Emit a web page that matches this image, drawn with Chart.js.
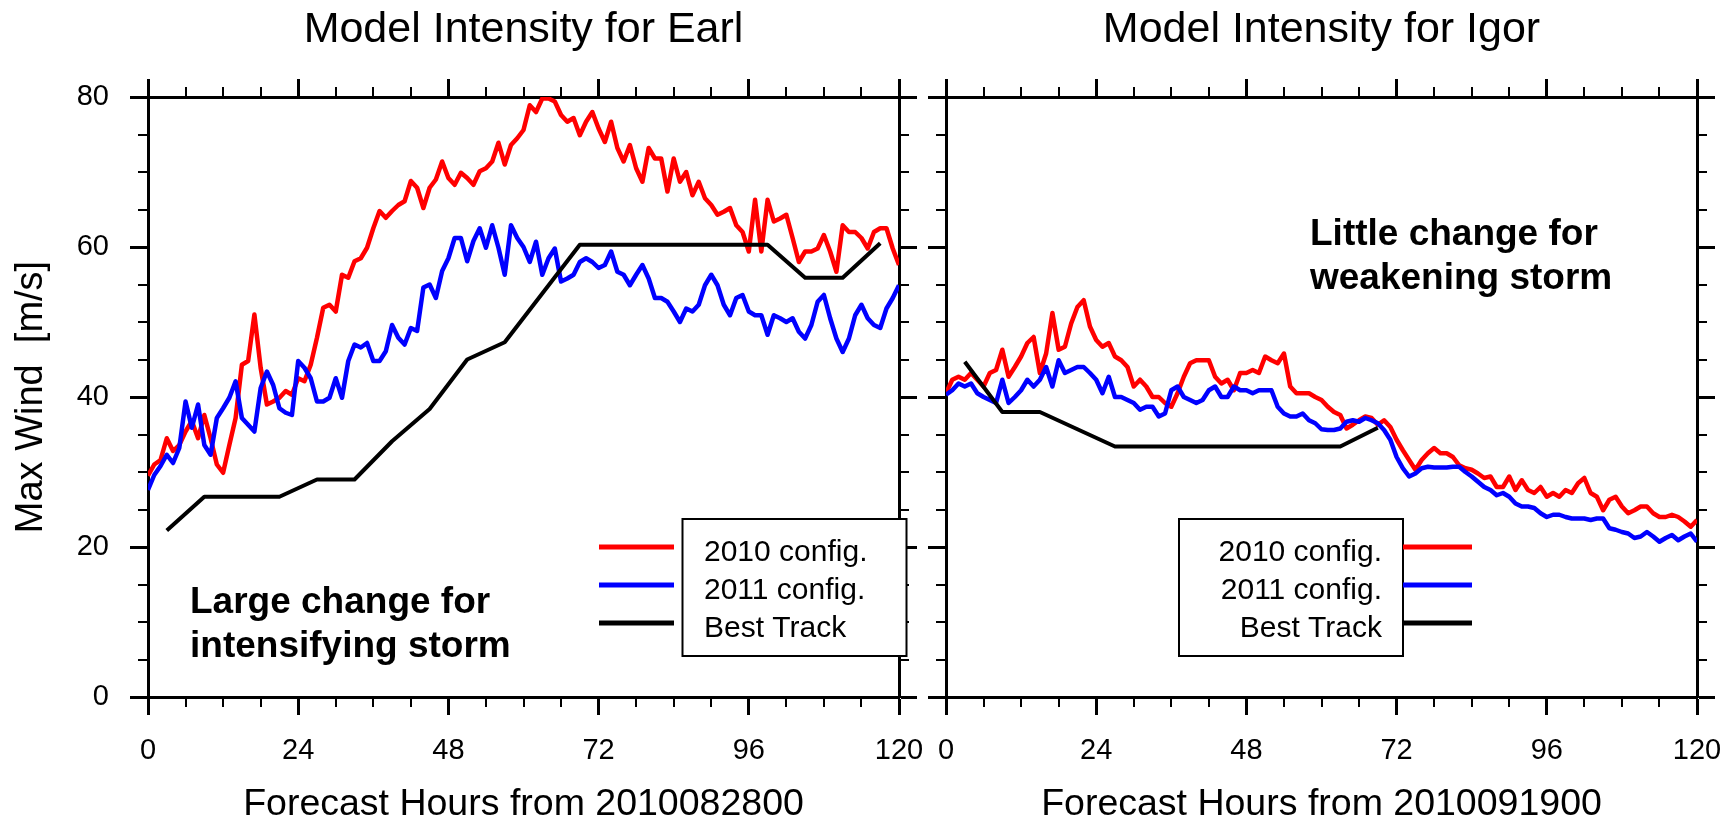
<!DOCTYPE html>
<html>
<head>
<meta charset="utf-8">
<title>Model Intensity for Earl and Igor</title>
<script src="https://cdn.jsdelivr.net/npm/chart.js@4.4.1/dist/chart.umd.min.js"></script>
<style>
  html, body { margin: 0; padding: 0; background: #fff; }
  #wrap { position: relative; width: 1726px; height: 822px; overflow: hidden; background: #fff; }
  canvas { position: absolute; top: 0; }
  #earl { left: 0; }
  #igor { left: 922px; }
</style>
</head>
<body>
<div id="wrap">
  <canvas id="earl" width="922" height="822"></canvas>
  <canvas id="igor" width="804" height="822"></canvas>
</div>
<script>
// Forecast max wind (m/s), hourly from hour 0 to 120
var seriesNames = ['2010 config.', '2011 config.', 'Best Track'];
var seriesColors = ['#ff0000', '#0000ff', '#000000'];
var hourTicks = [0, 24, 48, 72, 96, 120];
var windTicks = [0, 20, 40, 60, 80];

var earl2010 = [
  29.5, 31.0, 31.6, 34.5, 32.8, 33.6, 35.4, 36.8, 34.5, 37.6,
  34.5, 31.0, 29.9, 33.6, 37.2, 44.3, 44.8, 51.0, 43.9, 39.0,
  39.4, 39.9, 40.8, 40.3, 42.5, 42.1, 44.3, 47.9, 51.9, 52.3,
  51.4, 56.3, 55.9, 58.1, 58.5, 59.9, 62.5, 64.8, 63.9, 64.8,
  65.6, 66.1, 68.8, 67.9, 65.2, 67.9, 69.0, 71.4, 69.2, 68.3,
  69.9, 69.2, 68.3, 70.1, 70.5, 71.4, 73.9, 71.0, 73.6, 74.5,
  75.6, 78.9, 78.0, 79.8, 79.8, 79.4, 77.6, 76.7, 77.2, 74.9,
  76.7, 78.0, 75.8, 74.0, 76.7, 73.2, 71.4, 73.6, 70.5, 68.7,
  73.2, 71.8, 71.8, 67.4, 71.8, 68.7, 70.0, 66.9, 68.7, 66.5,
  65.6, 64.3, 64.7, 65.2, 62.9, 62.0, 59.4, 66.3, 59.4, 66.3,
  63.4, 63.8, 64.3, 61.2, 58.0, 59.4, 59.4, 59.8, 61.6, 59.4,
  56.7, 62.9, 62.0, 62.0, 61.2, 59.8, 62.0, 62.5, 62.5, 59.8,
  57.6
];
var earl2011 = [
  27.6, 29.6, 30.8, 32.3, 31.2, 33.2, 39.4, 35.9, 39.0, 33.6,
  32.3, 37.2, 38.5, 39.9, 42.1, 37.2, 36.3, 35.4, 41.2, 43.4,
  41.6, 38.5, 37.9, 37.6, 44.8, 43.9, 42.5, 39.4, 39.4, 39.9,
  42.5, 39.9, 44.8, 47.0, 46.6, 47.2, 44.8, 44.8, 46.1, 49.6,
  47.9, 47.0, 49.2, 48.8, 54.6, 55.0, 53.2, 56.8, 58.5, 61.2,
  61.2, 58.1, 60.8, 62.5, 59.9, 62.9, 59.9, 56.3, 62.9, 61.2,
  60.0, 58.0, 60.7, 56.3, 58.5, 59.8, 55.4, 55.8, 56.3, 58.0,
  58.5, 58.0, 57.2, 57.6, 59.4, 56.7, 56.3, 54.9, 56.3, 57.6,
  55.8, 53.2, 53.2, 52.7, 51.4, 50.0, 51.8, 51.4, 52.3, 54.9,
  56.3, 54.9, 52.3, 50.9, 53.2, 53.6, 51.4, 50.9, 50.9, 48.3,
  50.9, 50.5, 50.0, 50.5, 48.7, 47.8, 49.6, 52.7, 53.6, 50.5,
  47.8, 46.0, 47.8, 50.9, 52.3, 50.5, 49.6, 49.2, 51.8, 53.2,
  54.9
];
var earlBestHours = [3, 9, 15, 21, 27, 33, 39, 45, 51, 57, 63, 69, 75, 81, 87, 93, 99, 105, 111, 117];
var earlBest = [22.2, 26.7, 26.7, 26.7, 29.0, 29.0, 34.1, 38.4, 45.0, 47.3, 53.8, 60.3, 60.3, 60.3, 60.3, 60.3, 60.3, 55.9, 55.9, 60.5];

var igor2010 = [
  40.5, 42.3, 42.7, 42.3, 43.2, 42.3, 41.4, 43.2, 43.6, 46.3,
  42.7, 44.0, 45.4, 47.2, 48.0, 43.2, 45.8, 51.2, 46.3, 46.7,
  49.8, 52.0, 52.9, 49.4, 47.6, 46.7, 47.2, 45.4, 44.9, 44.0,
  41.4, 42.3, 41.4, 40.0, 40.0, 39.2, 38.7, 40.5, 42.7, 44.5,
  44.9, 44.9, 44.9, 42.7, 41.8, 42.3, 40.9, 43.2, 43.2, 43.6,
  43.2, 45.4, 44.9, 44.5, 45.8, 41.4, 40.5, 40.5, 40.5, 40.0,
  39.6, 38.7, 38.0, 37.6, 35.8, 36.3, 36.9, 37.4, 37.2, 36.3,
  36.9, 36.0, 34.3, 32.9, 31.6, 30.3, 31.6, 32.5, 33.2, 32.5,
  32.5, 32.0, 30.9, 30.5, 30.3, 29.8, 29.2, 29.4, 28.0, 28.0,
  29.4, 27.6, 28.9, 27.6, 27.2, 28.0, 26.7, 27.2, 26.7, 27.6,
  27.2, 28.5, 29.2, 27.2, 26.7, 24.9, 26.3, 26.7, 25.4, 24.5,
  24.9, 25.4, 25.4, 24.5, 24.0, 24.0, 24.3, 24.0, 23.4, 22.7,
  23.6
];
var igor2011 = [
  40.3, 40.9, 41.8, 41.4, 41.8, 40.5, 40.0, 39.6, 39.2, 42.3,
  39.2, 40.0, 40.9, 42.3, 41.4, 42.3, 44.0, 41.4, 44.9, 43.2,
  43.6, 44.0, 44.0, 43.2, 42.3, 40.5, 42.7, 40.0, 40.0, 39.6,
  39.2, 38.3, 38.7, 38.7, 37.4, 37.8, 40.9, 41.4, 40.0, 39.6,
  39.2, 39.6, 40.9, 41.4, 40.0, 40.0, 41.4, 40.9, 40.9, 40.5,
  40.9, 40.9, 40.9, 38.7, 37.8, 37.4, 37.4, 37.8, 36.9, 36.5,
  35.7, 35.6, 35.6, 35.8, 36.7, 36.9, 36.7, 37.2, 36.9, 36.5,
  35.6, 34.3, 32.0, 30.5, 29.4, 29.8, 30.5, 30.7, 30.6, 30.6,
  30.6, 30.7, 30.7, 30.0, 29.4, 28.7, 28.0, 27.6, 26.9, 27.2,
  26.7, 25.8, 25.4, 25.4, 25.2, 24.5, 24.0, 24.3, 24.3, 24.0,
  23.8, 23.8, 23.8, 23.6, 23.8, 23.8, 22.5, 22.3, 22.0, 21.8,
  21.2, 21.4, 22.0, 21.4, 20.7, 21.2, 21.6, 20.9, 21.4, 21.8,
  20.7
];
var igorBestHours = [3, 9, 15, 21, 27, 33, 39, 45, 51, 57, 63, 69];
var igorBest = [44.7, 38.0, 38.0, 35.7, 33.4, 33.4, 33.4, 33.4, 33.4, 33.4, 33.4, 35.9];

var FONT = '"Liberation Sans", Arial, Helvetica, sans-serif';

function toPoints(values, hours) {
  return values.map(function (v, i) { return { x: hours ? hours[i] : i, y: v }; });
}

function fixedTicks(list) {
  return function (scale) {
    scale.ticks = list.map(function (v) { return { value: v }; });
  };
}

function makeScales(cfg) {
  var tickFont = { family: FONT, size: 29 };
  var grid = { drawOnChartArea: false, drawTicks: true, tickLength: 18, tickWidth: 3, tickColor: '#000' };
  var border = { display: true, color: '#000', width: 3 };
  return {
    x: {
      type: 'linear', axis: 'x', position: 'bottom', min: 0, max: 120,
      afterBuildTicks: fixedTicks(hourTicks),
      ticks: { font: tickFont, color: '#000', padding: 19, maxRotation: 0, autoSkip: false },
      grid: grid, border: border,
      title: {
        display: true, text: cfg.xTitle, color: '#000',
        font: { family: FONT, size: 37.5, lineHeight: 0.9 }, padding: { top: 0, bottom: 0 }
      },
      afterFit: function (s) { s.height = 125; s.paddingLeft = 0; s.paddingRight = 0; }
    },
    xTop: {
      type: 'linear', axis: 'x', position: 'top', min: 0, max: 120,
      afterBuildTicks: fixedTicks(hourTicks),
      ticks: { display: false },
      grid: grid, border: border,
      title: {
        display: true, text: cfg.title, color: '#000',
        font: { family: FONT, size: 43 }, padding: { top: 4.5, bottom: 0 }
      },
      afterFit: function (s) { s.height = 97; s.paddingLeft = 0; s.paddingRight = 0; }
    },
    y: {
      type: 'linear', axis: 'y', position: 'left', min: 0, max: 80,
      afterBuildTicks: fixedTicks(windTicks),
      ticks: { display: cfg.yLabels, font: tickFont, color: '#000', padding: 21 },
      grid: grid, border: border,
      title: {
        display: cfg.yLabels, text: 'Max Wind  [m/s]', color: '#000',
        font: { family: FONT, size: 38 }, padding: { top: 9, bottom: 0 }
      },
      afterFit: function (s) { s.width = cfg.leftW; s.paddingTop = 0; s.paddingBottom = 0; }
    },
    yRight: {
      type: 'linear', axis: 'y', position: 'right', min: 0, max: 80,
      afterBuildTicks: fixedTicks(windTicks),
      ticks: { display: false },
      grid: grid, border: border,
      afterFit: function (s) { s.width = cfg.rightW; s.paddingTop = 0; s.paddingBottom = 0; }
    }
  };
}

// minor ticks, legend box and the bold note
var decorPlugin = {
  id: 'decor',
  afterDraw: function (chart) {
    var o = chart.options.plugins.decor;
    var ctx = chart.ctx;
    var a = chart.chartArea;
    var xs = chart.scales.x;
    var ys = chart.scales.y;
    ctx.save();
    ctx.strokeStyle = '#000';
    ctx.lineWidth = 2;
    ctx.beginPath();
    for (var h = 6; h < 120; h += 6) {
      if (h % 24 === 0) continue;
      var px = Math.round(xs.getPixelForValue(h));
      ctx.moveTo(px, a.top); ctx.lineTo(px, a.top - 10);
      ctx.moveTo(px, a.bottom); ctx.lineTo(px, a.bottom + 10);
    }
    for (var v = 5; v < 80; v += 5) {
      if (v % 20 === 0) continue;
      var py = Math.round(ys.getPixelForValue(v));
      ctx.moveTo(a.left, py); ctx.lineTo(a.left - 10, py);
      ctx.moveTo(a.right, py); ctx.lineTo(a.right + 10, py);
    }
    ctx.stroke();

    // legend
    var lg = o.legend;
    ctx.fillStyle = '#fff';
    ctx.fillRect(lg.box[0], lg.box[1], lg.box[2], lg.box[3]);
    ctx.lineWidth = 2;
    ctx.strokeRect(lg.box[0], lg.box[1], lg.box[2], lg.box[3]);
    ctx.font = '30px ' + FONT;
    ctx.textAlign = lg.align;
    ctx.textBaseline = 'alphabetic';
    chart.data.datasets.forEach(function (ds, i) {
      var ly = lg.rows[i];
      ctx.strokeStyle = ds.borderColor;
      ctx.lineWidth = 5;
      ctx.beginPath();
      ctx.moveTo(lg.line[0], ly); ctx.lineTo(lg.line[1], ly);
      ctx.stroke();
      ctx.fillStyle = '#000';
      ctx.fillText(ds.label, lg.textX, ly + 14);
    });

    // note
    ctx.font = 'bold 37px ' + FONT;
    ctx.textAlign = 'left';
    ctx.fillStyle = '#000';
    o.note.lines.forEach(function (t, i) {
      ctx.fillText(t, o.note.x, o.note.y[i]);
    });
    ctx.restore();
  }
};

function makeChart(id, cfg) {
  return new Chart(document.getElementById(id), {
    type: 'line',
    data: {
      datasets: [
        { label: seriesNames[0], data: toPoints(cfg.runA), borderColor: seriesColors[0], borderWidth: 4.5, order: 2 },
        { label: seriesNames[1], data: toPoints(cfg.runB), borderColor: seriesColors[1], borderWidth: 4.5, order: 1 },
        { label: seriesNames[2], data: toPoints(cfg.best, cfg.bestHours), borderColor: seriesColors[2], borderWidth: 4, order: 0 }
      ].map(function (ds) {
        ds.xAxisID = 'x';
        ds.yAxisID = 'y';
        ds.pointRadius = 0;
        ds.tension = 0;
        ds.fill = false;
        ds.borderJoinStyle = 'round';
        return ds;
      })
    },
    options: {
      responsive: false,
      animation: false,
      devicePixelRatio: 1,
      events: [],
      layout: { padding: 0, autoPadding: false },
      scales: makeScales(cfg),
      plugins: {
        legend: { display: false },
        tooltip: { enabled: false },
        decor: { legend: cfg.legend, note: cfg.note }
      }
    },
    plugins: [decorPlugin]
  });
}

makeChart('earl', {
  title: 'Model Intensity for Earl',
  xTitle: 'Forecast Hours from 2010082800',
  yLabels: true, leftW: 148, rightW: 23,
  runA: earl2010, runB: earl2011, best: earlBest, bestHours: earlBestHours,
  legend: { box: [682.5, 519, 224, 137], line: [599, 674], rows: [547, 585, 623], textX: 704, align: 'left' },
  note: { lines: ['Large change for', 'intensifying storm'], x: 190, y: [613, 657] }
});

makeChart('igor', {
  title: 'Model Intensity for Igor',
  xTitle: 'Forecast Hours from 2010091900',
  yLabels: false, leftW: 24, rightW: 29,
  runA: igor2010, runB: igor2011, best: igorBest, bestHours: igorBestHours,
  legend: { box: [257, 519, 224, 137], line: [481, 550], rows: [547, 585, 623], textX: 460, align: 'right' },
  note: { lines: ['Little change for', 'weakening storm'], x: 388, y: [245, 289] }
});
</script>
</body>
</html>
